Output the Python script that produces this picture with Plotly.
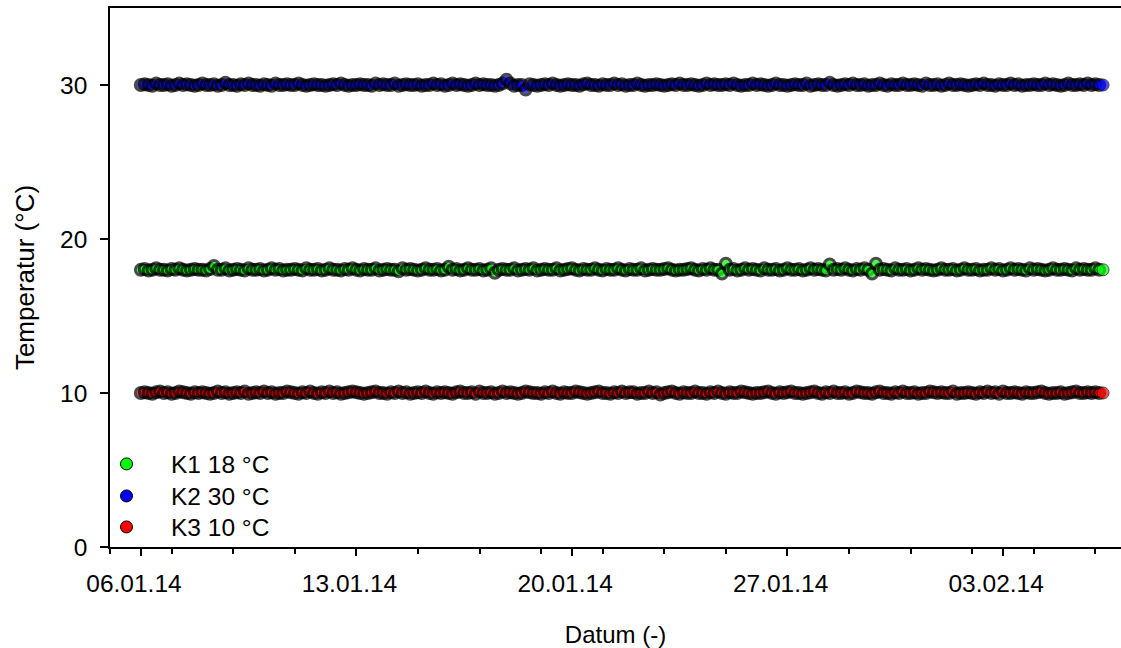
import pandas as pd
import plotly.graph_objects as go

# 3-hourly readings starting 06.01.14 00:00
start = "2014-01-06 00:00"

k1_18 = [
    18.0, 18.05, 17.95, 18.0, 18.1, 18.0, 18.0, 17.95,
    18.05, 18.0, 18.1, 18.0, 17.95, 18.0, 18.05, 18.0,
    18.0, 17.95, 18.05, 18.25, 18.0, 18.0, 18.1, 17.95,
    18.0, 18.05, 18.0, 17.95, 18.1, 18.0, 18.0, 18.05,
    17.95, 18.0, 18.1, 18.0, 18.05, 17.95, 18.0, 18.0,
    18.05, 18.0, 17.95, 18.1, 18.0, 18.0, 18.05, 17.95,
    18.0, 18.1, 18.0, 18.0, 17.95, 18.05, 18.0, 18.1,
    18.0, 17.95, 18.05, 18.0, 18.0, 18.1, 17.95, 18.0,
    18.05, 18.0, 18.0, 17.9, 18.1, 18.0, 18.05, 18.0,
    17.95, 18.0, 18.1, 18.0, 18.0, 18.05, 17.95, 18.0,
    18.2, 18.0, 18.05, 17.95, 18.0, 18.1, 18.0, 18.0,
    18.05, 17.95, 18.0, 18.1, 17.8, 18.0, 18.05, 18.0,
    18.0, 18.1, 17.95, 18.0, 18.05, 18.0, 18.1, 17.95,
    18.0, 18.05, 18.0, 18.0, 18.1, 17.95, 18.0, 18.05,
    18.1, 18.0, 17.95, 18.05, 18.0, 18.0, 18.1, 18.0,
    17.95, 18.05, 18.0, 18.0, 18.1, 18.0, 17.95, 18.05,
    18.0, 18.0, 18.1, 17.95, 18.0, 18.05, 18.0, 18.0,
    18.05, 18.1, 18.0, 17.95, 18.0, 18.0, 18.05, 18.1,
    18.0, 17.95, 18.05, 18.0, 18.1, 18.0, 18.0, 17.75,
    18.4, 18.0, 18.05, 17.95, 18.0, 18.1, 18.0, 18.05,
    18.0, 17.95, 18.1, 18.0, 18.0, 18.05, 17.95, 18.0,
    18.1, 18.0, 18.0, 18.05, 17.95, 18.0, 18.1, 18.0,
    18.05, 18.0, 17.95, 18.35, 18.0, 18.05, 18.0, 18.1,
    18.0, 17.95, 18.05, 18.0, 18.1, 18.0, 17.75, 18.4,
    18.0, 18.05, 18.0, 17.95, 18.1, 18.0, 18.0, 18.05,
    17.95, 18.0, 18.1, 18.0, 18.05, 18.0, 17.95, 18.0,
    18.1, 18.0, 18.0, 18.05, 17.95, 18.0, 18.1, 18.0,
    18.0, 18.05, 17.95, 18.0, 18.0, 18.1, 18.0, 18.05,
    17.95, 18.0, 18.1, 18.0, 18.05, 18.0, 17.95, 18.1,
    18.0, 18.05, 18.0, 17.95, 18.0, 18.1, 18.0, 18.0,
    18.05, 18.0, 17.95, 18.1, 18.0, 18.05, 18.0, 18.0,
    18.1, 18.0, 18.0,
]

k2_30 = [
    30.0, 30.05, 30.0, 29.95, 30.1, 30.0, 30.0, 30.05,
    29.95, 30.0, 30.1, 30.0, 30.05, 30.0, 29.95, 30.0,
    30.1, 30.0, 30.0, 30.05, 29.95, 30.0, 30.15, 30.0,
    30.0, 29.95, 30.05, 30.0, 30.1, 30.0, 30.0, 29.95,
    30.05, 30.0, 29.95, 30.1, 30.0, 30.0, 30.05, 30.0,
    30.0, 30.1, 30.0, 29.95, 30.0, 30.05, 30.0, 30.0,
    29.95, 30.0, 30.05, 30.0, 30.1, 30.0, 29.95, 30.0,
    30.0, 30.05, 30.0, 30.0, 29.95, 30.1, 30.0, 30.05,
    30.0, 30.0, 30.1, 29.95, 30.0, 30.05, 30.0, 30.0,
    30.05, 29.95, 30.0, 30.0, 30.1, 30.0, 30.05, 29.95,
    30.0, 30.1, 30.0, 30.05, 30.0, 29.95, 30.0, 30.1,
    30.0, 30.05, 30.0, 30.0, 29.95, 30.0, 30.1, 30.35,
    30.1, 29.95, 30.0, 30.0, 29.7, 30.05, 30.0, 29.95,
    30.0, 30.05, 30.0, 30.1, 30.0, 29.95, 30.0, 30.05,
    30.0, 30.0, 29.95, 30.05, 30.1, 30.0, 30.0, 29.95,
    30.05, 30.0, 30.0, 30.1, 30.0, 30.05, 29.95, 30.0,
    30.0, 30.1, 30.0, 29.95, 30.0, 30.0, 30.05, 30.0,
    29.95, 30.0, 30.05, 30.0, 30.1, 30.0, 30.0, 30.05,
    30.0, 29.95, 30.0, 30.1, 30.0, 30.05, 30.0, 30.0,
    30.05, 30.0, 30.1, 30.0, 29.95, 30.0, 30.0, 30.1,
    30.0, 30.05, 30.0, 29.95, 30.0, 30.1, 30.0, 30.0,
    29.95, 30.0, 30.05, 30.0, 30.0, 30.1, 29.95, 30.0,
    30.05, 30.0, 30.0, 30.15, 30.0, 29.95, 30.0, 30.05,
    30.0, 30.1, 30.0, 30.0, 30.05, 29.95, 30.0, 30.0,
    30.1, 30.0, 29.95, 30.05, 30.0, 30.0, 30.1, 30.0,
    30.0, 30.05, 30.0, 29.95, 30.1, 30.0, 30.0, 30.05,
    29.95, 30.0, 30.1, 30.0, 30.0, 30.05, 30.0, 29.95,
    30.0, 30.05, 30.0, 30.1, 30.0, 30.0, 29.95, 30.05,
    30.0, 30.0, 30.1, 30.0, 30.05, 29.95, 30.0, 30.0,
    30.05, 30.0, 30.0, 30.1, 30.0, 30.05, 30.0, 29.95,
    30.0, 30.1, 30.0, 30.0, 30.05, 30.0, 30.1, 30.0,
    30.05, 30.0, 30.0,
]

k3_10 = [
    10.0, 10.05, 10.0, 9.95, 10.05, 10.1, 10.0, 10.05,
    9.95, 10.0, 10.1, 10.05, 10.0, 9.95, 10.05, 10.0,
    10.05, 10.0, 9.95, 10.0, 10.1, 10.0, 10.05, 9.95,
    10.0, 10.05, 10.0, 10.1, 9.95, 10.0, 10.05, 10.0,
    10.1, 10.0, 10.05, 9.95, 10.0, 10.0, 10.1, 10.05,
    10.0, 9.95, 10.05, 10.0, 10.1, 10.0, 9.95, 10.05,
    10.0, 10.1, 10.0, 10.05, 9.95, 10.0, 10.05, 10.1,
    10.05, 10.0, 9.95, 10.0, 10.05, 10.1, 10.0, 10.0,
    9.95, 10.05, 10.0, 10.1, 10.0, 10.05, 9.95, 10.0,
    10.05, 10.0, 10.1, 10.0, 9.95, 10.05, 10.0, 10.05,
    10.0, 9.95, 10.05, 10.1, 10.0, 10.0, 10.05, 9.95,
    10.1, 10.0, 10.0, 10.05, 9.95, 10.0, 10.1, 10.0,
    10.05, 10.0, 9.95, 10.0, 10.1, 10.05, 10.0, 10.0,
    9.95, 10.05, 10.0, 10.1, 10.0, 9.95, 10.05, 10.0,
    10.0, 10.1, 10.05, 10.0, 9.95, 10.0, 10.05, 10.1,
    10.0, 10.0, 9.95, 10.05, 10.0, 10.1, 10.0, 10.05,
    10.05, 9.95, 10.0, 10.0, 10.1, 10.0, 10.05, 9.9,
    10.0, 10.05, 10.1, 10.0, 9.95, 10.05, 10.0, 10.0,
    10.1, 10.0, 10.0, 9.95, 10.05, 10.0, 10.1, 10.0,
    9.95, 10.05, 10.0, 10.0, 10.1, 10.05, 10.0, 9.95,
    10.0, 10.0, 10.05, 10.1, 10.0, 9.95, 10.05, 10.0,
    10.05, 10.1, 10.0, 10.0, 9.95, 10.0, 10.05, 10.1,
    10.0, 9.95, 10.05, 10.0, 10.1, 10.0, 10.0, 10.05,
    9.95, 10.0, 10.1, 10.05, 10.0, 10.0, 9.95, 10.05,
    10.1, 10.0, 10.0, 9.95, 10.05, 10.0, 10.1, 10.0,
    10.0, 10.05, 9.95, 10.0, 10.0, 10.1, 10.05, 10.0,
    10.05, 10.0, 10.0, 10.1, 9.95, 10.0, 10.0, 10.05,
    10.0, 9.95, 10.05, 10.0, 10.1, 10.0, 10.05, 9.95,
    10.1, 10.0, 10.0, 10.05, 10.0, 9.95, 10.05, 10.0,
    10.0, 10.05, 10.1, 10.0, 9.95, 10.0, 10.0, 10.05,
    9.95, 10.0, 10.05, 10.1, 10.0, 10.0, 10.05, 10.0,
    10.05, 10.0, 10.0,
]

series_names = ["K1 18 °C", "K2 30 °C", "K3 10 °C"]
series_colors = ["#00ff00", "#0000ff", "#ff0000"]
series_values = [k1_18, k2_30, k3_10]

x_tick_dates = ["2014-01-06", "2014-01-13", "2014-01-20", "2014-01-27", "2014-02-03"]
x_tick_labels = ["06.01.14", "13.01.14", "20.01.14", "27.01.14", "03.02.14"]
y_tick_values = [0, 10, 20, 30]

FONT = "Liberation Sans, Arial, sans-serif"
FS = 24.5

legend_ids = ["legend", "legend2", "legend3"]
legend_y = [0.1540, 0.0946, 0.0371]

fig = go.Figure()
for name, col, vals, lid in zip(series_names, series_colors, series_values, legend_ids):
    t = pd.date_range(start, periods=len(vals), freq="3h")
    n = len(vals)
    # dense overlapping outlines; the final (unobscured) point keeps a thin rim
    sizes = [10.8] * (n - 1) + [12]
    widths = [3.1] * (n - 1) + [1]
    fig.add_trace(go.Scatter(
        x=t, y=vals, mode="markers", name=name, showlegend=False,
        legendgroup=name,
        marker=dict(size=sizes, color=col, line=dict(color="black", width=widths)),
    ))
    # legend entry
    fig.add_trace(go.Scatter(
        x=[None], y=[None], mode="markers", name=name, legend=lid,
        legendgroup=name,
        marker=dict(size=12, color=col, line=dict(color="black", width=1)),
    ))

legend_common = dict(x=-0.0277, xanchor="left", yanchor="middle",
                     bgcolor="rgba(0,0,0,0)", font=dict(size=FS),
                     itemwidth=79)

DAY = 86400000
NB = "\u00a0\u00a0"
fig.update_layout(
    width=1121, height=648,
    margin=dict(l=110, r=0, t=8, b=101),
    paper_bgcolor="white", plot_bgcolor="white",
    font=dict(family=FONT, size=FS, color="black"),
    showlegend=True,
    legend=dict(y=legend_y[0], **legend_common),
    legend2=dict(y=legend_y[1], **legend_common),
    legend3=dict(y=legend_y[2], **legend_common),
    xaxis=dict(
        type="date",
        range=["2014-01-05 00:00", "2014-02-06 20:00"],
        tickvals=x_tick_dates, ticktext=[s + NB for s in x_tick_labels],
        ticks="outside", ticklen=7, tickwidth=1.5, tickcolor="black",
        showline=True, linecolor="black", linewidth=1.5, mirror=True,
        showgrid=False, zeroline=False,
        minor=dict(tick0="2014-01-05", dtick=2 * DAY, ticks="outside",
                   ticklen=5, tickwidth=1.5, tickcolor="black", showgrid=False),
        ticklabelstandoff=7,
        title=dict(text="Datum (-)", standoff=30, font=dict(size=24)),
    ),
    yaxis=dict(
        range=[0, 35], tickvals=y_tick_values,
        ticks="outside", ticklen=8, tickwidth=1.5, tickcolor="black",
        showline=True, linecolor="black", linewidth=1.5,
        showgrid=False, zeroline=False,
        ticklabelstandoff=8,
        title=dict(text="Temperatur (°C)", standoff=18, font=dict(size=26)),
    ),
)

fig.write_html("out.html")
